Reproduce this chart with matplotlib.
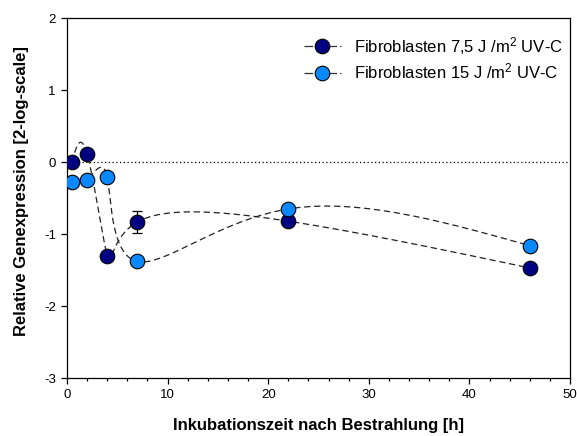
import numpy as np
import matplotlib
matplotlib.use("Agg")
import matplotlib.pyplot as plt
from matplotlib.ticker import MultipleLocator

plt.rcParams['font.family'] = ['Liberation Sans', 'DejaVu Sans']
plt.rcParams['axes.unicode_minus'] = False
plt.rcParams['mathtext.fontset'] = 'custom'
plt.rcParams['mathtext.rm'] = 'Liberation Sans'
plt.rcParams['mathtext.it'] = 'Liberation Sans:italic'
plt.rcParams['mathtext.bf'] = 'Liberation Sans:bold'

# Incubation time [h]
hours = [0.5, 2, 4, 7, 22, 46]
# Relative gene expression (2-log scale)
expr_75 = [0.0, 0.11, -1.30, -0.83, -0.82, -1.47]
err_75 = [0.0, 0.0, 0.0, 0.15, 0.0, 0.0]
expr_15 = [-0.27, -0.25, -0.21, -1.38, -0.65, -1.16]

label_75 = r"Fibroblasten 7,5 J /m$\mathregular{^2}$ UV-C"
label_15 = r"Fibroblasten 15 J /m$\mathregular{^2}$ UV-C"
col_75 = "#000080"
col_15 = "#0a88ff"


def natural_spline_eval(t, v, ts):
    t = np.asarray(t, float)
    v = np.asarray(v, float)
    k = len(t)
    h = np.diff(t)
    A = np.zeros((k, k))
    b = np.zeros(k)
    A[0, 0] = A[-1, -1] = 1.0
    for i in range(1, k - 1):
        A[i, i - 1] = h[i - 1]
        A[i, i] = 2 * (h[i - 1] + h[i])
        A[i, i + 1] = h[i]
        b[i] = 3 * ((v[i + 1] - v[i]) / h[i] - (v[i] - v[i - 1]) / h[i - 1])
    c = np.linalg.solve(A, b)
    bb = (v[1:] - v[:-1]) / h - h * (2 * c[:-1] + c[1:]) / 3
    dd = (c[1:] - c[:-1]) / (3 * h)
    idx = np.clip(np.searchsorted(t, ts) - 1, 0, k - 2)
    dt = ts - t[idx]
    return v[idx] + bb[idx] * dt + c[idx] * dt ** 2 + dd[idx] * dt ** 3


def spline_curve(x, y, n=800):
    """Parametric cubic spline through the points (one parameter step per point)."""
    t = np.arange(len(x), dtype=float)
    ts = np.linspace(0, t[-1], n)
    return natural_spline_eval(t, x, ts), natural_spline_eval(t, y, ts)


fig = plt.figure(figsize=(5.77, 4.36), dpi=100)
ax = fig.add_axes([0.1161, 0.133, 0.8719, 0.825])
ax.set_xlim(0, 50)
ax.set_ylim(-3, 2)

ax.axhline(0, color="black", lw=0.9, ls=(0, (1, 2)), zorder=1)

dash = (0, (5, 3))
handles = []
for xs_, ys_, err, col, lab in [
    (hours, expr_75, err_75, col_75, label_75),
    (hours, expr_15, None, col_15, label_15),
]:
    sx, sy = spline_curve(xs_, ys_)
    ax.plot(sx, sy, color="#222222", lw=0.9, ls=dash, zorder=2)
    if err is not None:
        e = np.asarray(err)
        m = e > 0
        ax.errorbar(np.asarray(xs_)[m], np.asarray(ys_)[m], yerr=e[m],
                    fmt="none", ecolor="black", elinewidth=0.9,
                    capsize=3.5, capthick=0.9, zorder=3)
    ax.plot(xs_, ys_, ls="none", marker="o", ms=10.5, mfc=col,
            mec="black", mew=0.8, zorder=4)
    h, = ax.plot([], [], color="#333333", lw=0.9, ls=(0, (7, 2.5)), marker="o",
                 ms=10.5, mfc=col, mec="black", mew=0.8, label=lab)
    handles.append(h)

ax.xaxis.set_major_locator(MultipleLocator(10))
ax.xaxis.set_minor_locator(MultipleLocator(2))
ax.yaxis.set_major_locator(MultipleLocator(1))
ax.tick_params(axis="both", which="major", direction="out", length=4,
               width=0.9, labelsize=9.5, pad=4)
ax.tick_params(axis="x", which="minor", direction="out", length=2.5, width=0.9)
for s in ax.spines.values():
    s.set_linewidth(0.9)

ax.set_xlabel("Inkubationszeit nach Bestrahlung [h]", fontsize=12,
              fontweight="bold", labelpad=12)
ax.set_ylabel("Relative Genexpression [2-log-scale]", fontsize=12,
              fontweight="bold")
ax.yaxis.set_label_coords(-0.076, 0.52)

fig.legend(handles=handles, loc="upper left", frameon=False, fontsize=12,
           handlelength=2.2, handletextpad=0.8, labelspacing=0.3,
           borderpad=0, borderaxespad=0,
           bbox_to_anchor=(304 / 577, 1 - 35 / 436))

fig.savefig("out.png", dpi=100)
